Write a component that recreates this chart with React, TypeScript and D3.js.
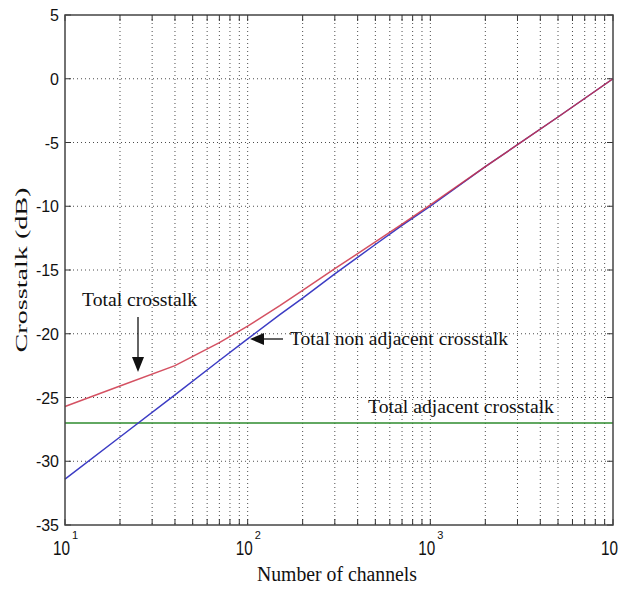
import React, { useRef, useEffect } from 'react';
import * as d3 from 'd3';

// values
const channels = [10, 20, 40, 70, 100, 150, 200, 300, 500, 700, 1000, 2000, 5000, 10000];
const totalCrosstalk = [-25.7, -24.1, -22.5, -20.7, -19.4, -17.8, -16.6, -14.9, -12.8, -11.4, -9.9, -6.9, -3.0, 0];
const nonAdjacentCrosstalk = [-31.4, -28.1, -24.8, -22.1, -20.4, -18.5, -17.2, -15.3, -13.0, -11.5, -10.0, -6.9, -3.0, 0];
const adjacentChannels = [10, 10000];
const adjacentCrosstalk = [-27, -27];

const yTicks = [5, 0, -5, -10, -15, -20, -25, -30, -35];
const xMajorTicks = [10, 100, 1000, 10000];
const xExponents = ['1', '2', '3', '4'];

const App = () => {
  const svgRef = useRef<SVGSVGElement>(null);

  useEffect(() => {
    const W = 619;
    const H = 589;
    const margin = { top: 15, right: 6, bottom: 64, left: 65 };
    const width = W - margin.left - margin.right;
    const height = H - margin.top - margin.bottom;

    const svg = d3.select(svgRef.current)
      .attr('width', W)
      .attr('height', H)
      .style('background', 'white');

    svg.selectAll('*').remove();

    const x = d3.scaleLog().domain([10, 10000]).range([0, width]);
    const y = d3.scaleLinear().domain([-35, 5]).range([height, 0]);

    const g = svg.append('g')
      .attr('transform', `translate(${margin.left}, ${margin.top})`);

    // minor ticks 2..9 in every decade
    const minorTicks: number[] = [];
    for (let d = 10; d < 10000; d *= 10) {
      for (let k = 2; k <= 9; k++) minorTicks.push(k * d);
    }
    const allX = [...xMajorTicks, ...minorTicks];

    // grid
    g.append('g')
      .selectAll('line')
      .data(allX.filter(v => v > 10 && v < 10000))
      .enter()
      .append('line')
      .attr('x1', d => x(d)).attr('x2', d => x(d))
      .attr('y1', 0).attr('y2', height)
      .attr('stroke', '#000')
      .attr('stroke-opacity', 0.7)
      .attr('stroke-dasharray', '1,3');

    g.append('g')
      .selectAll('line')
      .data(yTicks.filter(v => v > -35 && v < 5))
      .enter()
      .append('line')
      .attr('x1', 0).attr('x2', width)
      .attr('y1', d => y(d)).attr('y2', d => y(d))
      .attr('stroke', '#000')
      .attr('stroke-opacity', 0.7)
      .attr('stroke-dasharray', '1,3');

    // ticks (inward, on all four sides)
    const tickLen = 6;
    allX.forEach(v => {
      g.append('line').attr('x1', x(v)).attr('x2', x(v)).attr('y1', height).attr('y2', height - tickLen).attr('stroke', '#333');
      g.append('line').attr('x1', x(v)).attr('x2', x(v)).attr('y1', 0).attr('y2', tickLen).attr('stroke', '#333');
    });
    yTicks.forEach(v => {
      g.append('line').attr('x1', 0).attr('x2', tickLen).attr('y1', y(v)).attr('y2', y(v)).attr('stroke', '#333');
      g.append('line').attr('x1', width).attr('x2', width - tickLen).attr('y1', y(v)).attr('y2', y(v)).attr('stroke', '#333');
    });

    // lines
    const line = d3.line<[number, number]>()
      .x(d => x(d[0]))
      .y(d => y(d[1]));

    g.append('path')
      .datum(adjacentChannels.map((c, i) => [c, adjacentCrosstalk[i]] as [number, number]))
      .attr('d', line)
      .attr('fill', 'none')
      .attr('stroke', '#2e8b2e')
      .attr('stroke-width', 1.5);

    g.append('path')
      .datum(channels.map((c, i) => [c, nonAdjacentCrosstalk[i]] as [number, number]))
      .attr('d', line)
      .attr('fill', 'none')
      .attr('stroke', '#3c3cc4')
      .attr('stroke-width', 1.5);

    g.append('path')
      .datum(channels.map((c, i) => [c, totalCrosstalk[i]] as [number, number]))
      .attr('d', line)
      .attr('fill', 'none')
      .attr('stroke', '#cc3347')
      .attr('stroke-opacity', 0.85)
      .attr('stroke-width', 1.5);

    // frame
    g.append('rect')
      .attr('width', width)
      .attr('height', height)
      .attr('fill', 'none')
      .attr('stroke', '#444')
      .attr('stroke-width', 1.5);

    // y tick labels
    g.append('g')
      .selectAll('text')
      .data(yTicks)
      .enter()
      .append('text')
      .attr('x', -6)
      .attr('y', d => y(d) + 6)
      .attr('text-anchor', 'end')
      .attr('font-family', 'Liberation Sans, Arial, sans-serif')
      .attr('font-size', 16)
      .attr('fill', '#111')
      .text(d => `${d}`);

    // x tick labels 10^n
    xMajorTicks.forEach((v, i) => {
      const cx = x(v);
      g.append('text')
        .attr('x', cx - 12)
        .attr('y', height + 30)
        .attr('font-family', 'Liberation Sans, Arial, sans-serif')
        .attr('font-size', 20)
        .attr('textLength', 17)
        .attr('lengthAdjust', 'spacingAndGlyphs')
        .attr('fill', '#111')
        .text('10');
      g.append('text')
        .attr('x', cx + 7)
        .attr('y', height + 14)
        .attr('font-family', 'Liberation Sans, Arial, sans-serif')
        .attr('font-size', 11)
        .attr('fill', '#111')
        .text(xExponents[i]);
    });

    // axis titles
    svg.append('text')
      .attr('x', margin.left + width / 2 - 2)
      .attr('y', 581)
      .attr('text-anchor', 'middle')
      .attr('font-family', 'Liberation Serif, Times New Roman, serif')
      .attr('font-size', 20)
      .attr('textLength', 160)
      .attr('lengthAdjust', 'spacingAndGlyphs')
      .attr('fill', '#111')
      .text('Number of channels');

    svg.append('text')
      .attr('transform', `translate(27, ${margin.top + height / 2}) rotate(-90)`)
      .attr('text-anchor', 'middle')
      .attr('font-family', 'Liberation Serif, Times New Roman, serif')
      .attr('font-size', 17)
      .attr('textLength', 165)
      .attr('lengthAdjust', 'spacingAndGlyphs')
      .attr('fill', '#111')
      .text('Crosstalk (dB)');

    // annotations
    const serif = 'Liberation Serif, Times New Roman, serif';
    const ann = (tx: number, ty: number, label: string, len: number) =>
      svg.append('text')
        .attr('x', tx)
        .attr('y', ty)
        .attr('font-family', serif)
        .attr('font-size', 18)
        .attr('textLength', len)
        .attr('lengthAdjust', 'spacingAndGlyphs')
        .attr('fill', '#111')
        .text(label);

    ann(82, 306, 'Total crosstalk', 115);
    ann(290, 345, 'Total non adjacent crosstalk', 218);
    ann(368, 413, 'Total adjacent crosstalk', 186);

    // arrow down to the red curve
    svg.append('line').attr('x1', 138).attr('x2', 138).attr('y1', 317).attr('y2', 360).attr('stroke', '#111').attr('stroke-width', 1.3);
    svg.append('path').attr('d', 'M132,357 L144,357 L138,372 Z').attr('fill', '#111');

    // arrow left to the blue curve
    svg.append('line').attr('x1', 260).attr('x2', 283).attr('y1', 339).attr('y2', 339).attr('stroke', '#111').attr('stroke-width', 1.3);
    svg.append('path').attr('d', 'M250,339 L264,333 L264,345 Z').attr('fill', '#111');
  }, []);

  return (
    <div style={{ position: 'absolute', left: 0, top: 0 }}>
      <svg ref={svgRef} style={{ display: 'block' }}></svg>
    </div>
  );
};

export default App;
